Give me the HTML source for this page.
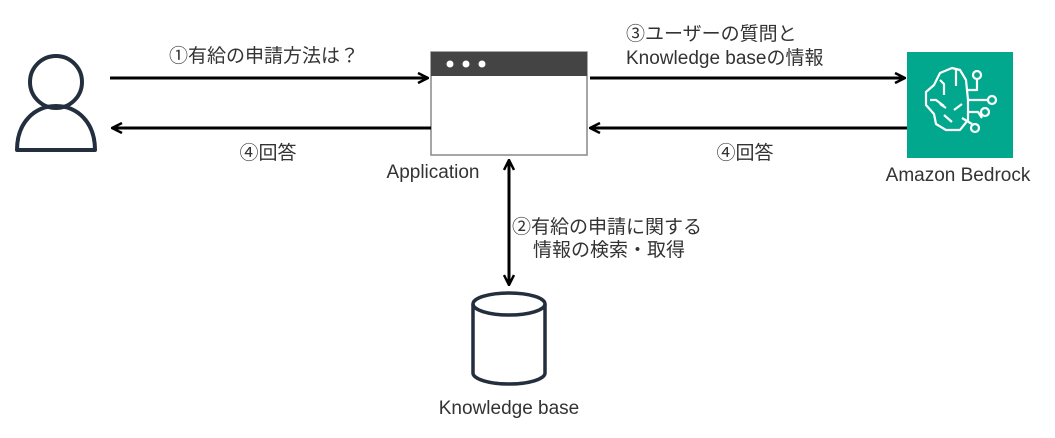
<!DOCTYPE html>
<html><head><meta charset="utf-8"><style>
body{margin:0;background:#fff;}
svg text{font-family:"Liberation Sans","Noto Sans CJK JP",sans-serif;fill:#333;font-size:19px;}
</style></head><body>
<svg width="1055" height="433" viewBox="0 0 1055 433" xmlns="http://www.w3.org/2000/svg">
<defs>
<marker id="a" viewBox="0 0 12 12" refX="11" refY="6" markerWidth="12" markerHeight="12" markerUnits="userSpaceOnUse" orient="auto-start-reverse">
<path d="M1,1 L11,6 L1,11" fill="none" stroke="#000" stroke-width="2.5"/>
</marker>
</defs>
<g fill="none" stroke="#232f3e" stroke-width="4">
<circle cx="56" cy="82" r="26"/>
<path d="M17,150 C17,122 35,106 56,106 C77,106 95,122 95,150 Z" stroke-linejoin="round"/>
</g>
<rect x="431" y="52" width="156" height="103" fill="#fff" stroke="#888" stroke-width="1.5"/>
<rect x="431" y="52" width="156" height="24" fill="#444"/>
<circle cx="450" cy="64" r="3.5" fill="#fff"/><circle cx="466" cy="64" r="3.5" fill="#fff"/><circle cx="482" cy="64" r="3.5" fill="#fff"/>
<text x="433" y="178" text-anchor="middle">Application</text>
<rect x="907" y="52" width="106" height="106" fill="#01a88d"/>
<g fill="none" stroke="#fff" stroke-width="2.2" stroke-linejoin="round">
<path d="M952,68 L940,73 L934,85 L926,92 L926,105 L934,114 L936,124 L946,130 L960,130 L968,120 L968,100 L966,80 L960,70 Z"/>
<path d="M940,80 L944,84 L944,95 M930,100 L936,100 L944,106 M940,104 L946,108 M944,115 L952,122 M956,70 L956,86 M954,110 L962,104"/>
<path d="M968,90 L977,90 L977,80 M968,100 L988,100 M968,112 L978,112 L982,118"/>
<circle cx="977" cy="75" r="4"/><circle cx="992" cy="100" r="4"/><circle cx="985" cy="112" r="4"/><circle cx="975" cy="128" r="4"/>
<path d="M962,118 L972,124"/>
</g>
<text x="958" y="181" text-anchor="middle">Amazon Bedrock</text>
<g fill="none" stroke="#232f3e" stroke-width="3.5">
<ellipse cx="509" cy="304" rx="36" ry="11"/>
<path d="M473,304 L473,373 A36,11 0 0 0 545,373 L545,304"/>
</g>
<text x="509" y="414" text-anchor="middle">Knowledge base</text>
<g stroke="#000" stroke-width="3" fill="none">
<line x1="110" y1="78" x2="428" y2="78" marker-end="url(#a)"/>
<line x1="431" y1="128" x2="112" y2="128" marker-end="url(#a)"/>
<line x1="590" y1="78" x2="905" y2="78" marker-end="url(#a)"/>
<line x1="907" y1="128" x2="590" y2="128" marker-end="url(#a)"/>
<line x1="509" y1="160" x2="509" y2="285" marker-start="url(#a)" marker-end="url(#a)"/>
</g>
<text x="264" y="62" text-anchor="middle">①有給の申請方法は？</text>
<text x="268" y="159" text-anchor="middle">④回答</text>
<text x="626" y="40">③ユーザーの質問と</text>
<text x="626" y="64">Knowledge baseの情報</text>
<text x="745" y="159" text-anchor="middle">④回答</text>
<text x="512" y="233">②有給の申請に関する</text>
<text x="533" y="256">情報の検索・取得</text>
</svg>
</body></html>
